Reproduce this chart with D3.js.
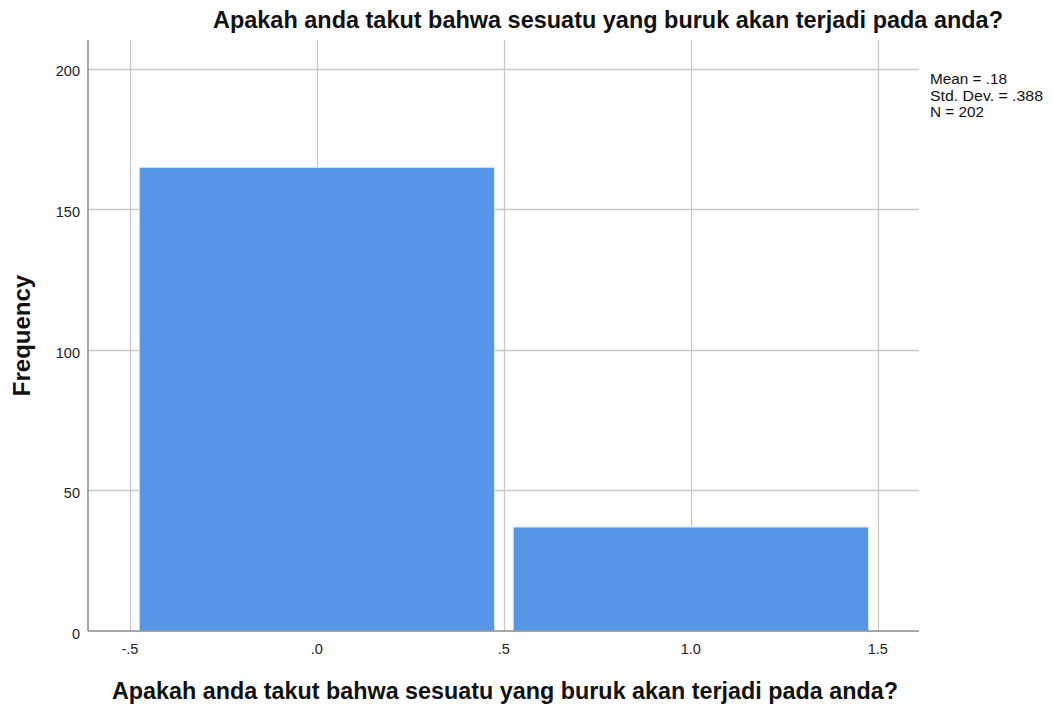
<!DOCTYPE html>
<html>
<head>
<meta charset="utf-8">
<script src="https://cdn.jsdelivr.net/npm/d3@7"></script>
<style>
  body { margin: 0; background: #fff; }
  text { font-family: "Liberation Sans", Arial, sans-serif; }
</style>
</head>
<body>
<div id="chart"></div>
<script>
// histogram data
var binCenters = [0, 1];
var frequencies = [165, 37];
var xTicks = [-0.5, 0, 0.5, 1, 1.5];
var xTickLabels = ["-.5", ".0", ".5", "1.0", "1.5"];
var yTicks = [0, 50, 100, 150, 200];
var statLines = ["Mean = .18", "Std. Dev. = .388", "N = 202"];
var titleText = "Apakah anda takut bahwa sesuatu yang buruk akan terjadi pada anda?";

var W = 1053, H = 709;
var margin = { top: 40, right: 134, bottom: 78, left: 88 };
var width = W - margin.left - margin.right;
var height = H - margin.top - margin.bottom;

var svg = d3.select("#chart").append("svg")
    .attr("width", W)
    .attr("height", H);

var g = svg.append("g")
    .attr("transform", "translate(" + margin.left + "," + margin.top + ")");

var x = d3.scaleLinear().domain([-0.612, 1.61]).range([0, width]);
var y = d3.scaleLinear().domain([0, 210.3]).range([height, 0]);

// grid
g.selectAll(".hgrid").data(yTicks.filter(function(d) { return d > 0; }))
  .enter().append("line")
    .attr("x1", 0).attr("x2", width)
    .attr("y1", function(d) { return Math.round(y(d)) + 0.5; })
    .attr("y2", function(d) { return Math.round(y(d)) + 0.5; })
    .attr("stroke", "#c8c8c8").attr("stroke-width", 1.3);

g.selectAll(".vgrid").data(xTicks)
  .enter().append("line")
    .attr("y1", 0).attr("y2", height)
    .attr("x1", function(d) { return Math.round(x(d)) + 0.5; })
    .attr("x2", function(d) { return Math.round(x(d)) + 0.5; })
    .attr("stroke", "#c8c8c8").attr("stroke-width", 1.3);

// bars
var barW = 0.95;
g.selectAll(".bar").data(frequencies)
  .enter().append("rect")
    .attr("x", function(d, i) { return x(binCenters[i] - barW / 2); })
    .attr("width", function() { return x(barW) - x(0); })
    .attr("y", function(d) { return y(d); })
    .attr("height", function(d) { return y(0) - y(d); })
    .attr("fill", "#5596e6")
    .attr("stroke", "#dce9fa").attr("stroke-width", 1);

// axes lines
g.append("line").attr("x1", 0).attr("x2", 0).attr("y1", 0).attr("y2", height)
    .attr("stroke", "#8a8a8a").attr("stroke-width", 1.5);
g.append("line").attr("x1", 0).attr("x2", width).attr("y1", height).attr("y2", height)
    .attr("stroke", "#8a8a8a").attr("stroke-width", 1.5);

// tick labels
g.selectAll(".ylab").data(yTicks)
  .enter().append("text")
    .attr("x", -8)
    .attr("y", function(d) { return y(d); })
    .attr("dy", "0.52em")
    .attr("text-anchor", "end")
    .attr("font-size", 14.5)
    .attr("fill", "#222")
    .text(function(d) { return d; });

g.selectAll(".xlab").data(xTicks)
  .enter().append("text")
    .attr("x", function(d) { return x(d); })
    .attr("y", height + 23)
    .attr("text-anchor", "middle")
    .attr("font-size", 14.5)
    .attr("fill", "#222")
    .text(function(d, i) { return xTickLabels[i]; });

// titles
svg.append("text")
    .attr("x", 608).attr("y", 28)
    .attr("text-anchor", "middle")
    .attr("font-size", 23).attr("font-weight", "bold")
    .attr("textLength", 790).attr("lengthAdjust", "spacingAndGlyphs")
    .attr("fill", "#111")
    .text(titleText);

svg.append("text")
    .attr("x", 505).attr("y", 699)
    .attr("text-anchor", "middle")
    .attr("font-size", 23).attr("font-weight", "bold")
    .attr("textLength", 786).attr("lengthAdjust", "spacingAndGlyphs")
    .attr("fill", "#111")
    .text(titleText);

svg.append("text")
    .attr("transform", "translate(30," + (margin.top + height / 2) + ") rotate(-90)")
    .attr("text-anchor", "middle")
    .attr("font-size", 24).attr("font-weight", "bold")
    .attr("fill", "#111")
    .text("Frequency");

// stats box
var statWidths = [77, 113, 54];
svg.selectAll(".stat").data(statLines)
  .enter().append("text")
    .attr("x", 930)
    .attr("y", function(d, i) { return 84 + i * 16.5; })
    .attr("font-size", 14)
    .attr("textLength", function(d, i) { return statWidths[i]; })
    .attr("lengthAdjust", "spacingAndGlyphs")
    .attr("fill", "#111")
    .text(function(d) { return d; });
</script>
</body>
</html>
